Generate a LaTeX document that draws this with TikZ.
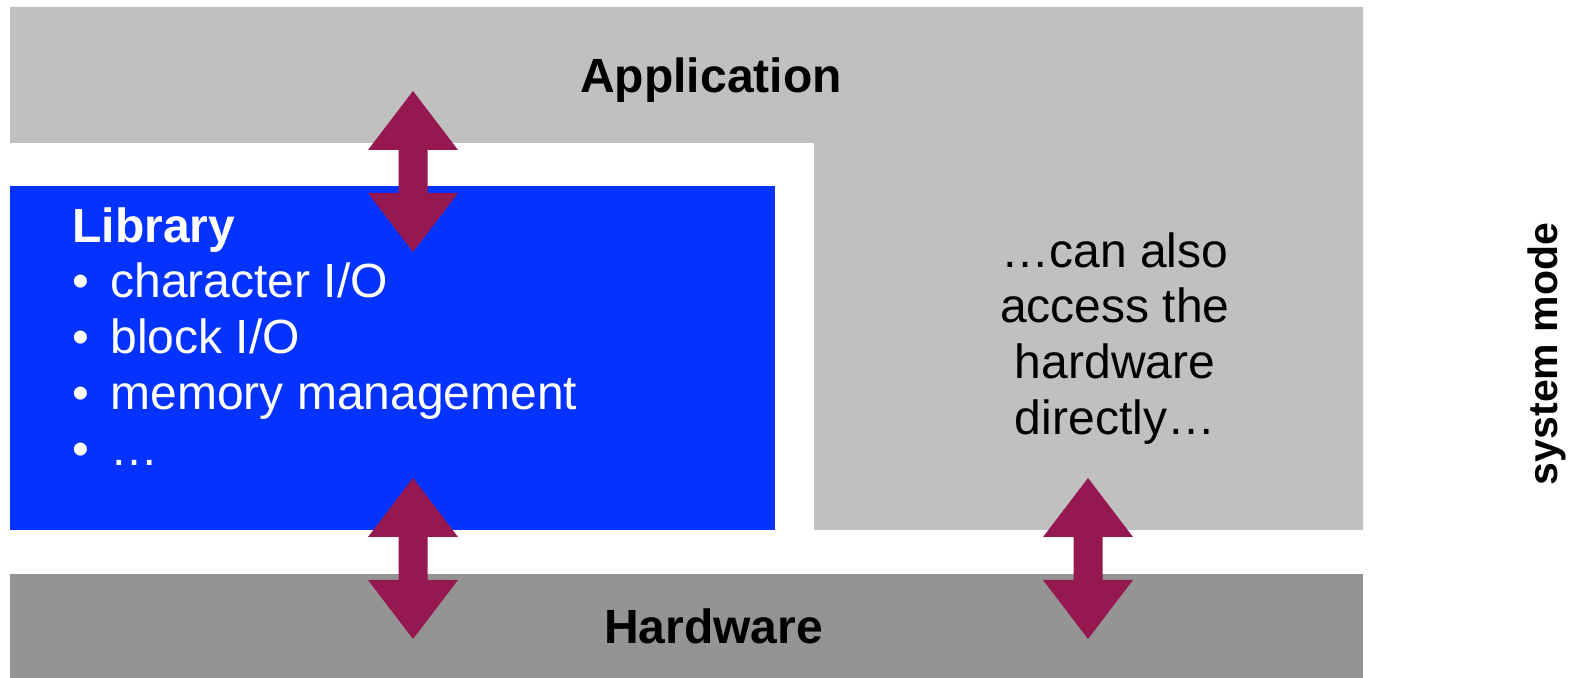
\documentclass[tikz,border=0pt]{standalone}
\usepackage{fontspec}
\setmainfont{Liberation Sans}
\definecolor{appgray}{HTML}{C0C0C0}
\definecolor{hwgray}{HTML}{949494}
\definecolor{libblue}{HTML}{0433FF}
\definecolor{arrowred}{HTML}{961850}
\tikzset{
  lbl/.style={inner sep=0pt, font=\fontsize{24}{28}\selectfont},
  bold/.style={lbl, font=\fontsize{24}{28}\selectfont\bfseries},
  onblue/.style={lbl, text=white, anchor=base west},
  note/.style={lbl, anchor=base},
}
% vertical double block arrow: #1 = centre x, #2 = top tip y
\newcommand\blockarrow[2]{%
  \fill[arrowred] (#1,#2) -- ++(45,59) -- ++(-30.5,0) -- ++(0,43) -- ++(30.5,0)
    -- ++(-45,59) -- ++(-45,-59) -- ++(30.5,0) -- ++(0,-43) -- ++(-30.5,0) -- cycle;}
\begin{document}
\begin{tikzpicture}[x=0.5pt, y=-0.5pt]
\useasboundingbox (0,0) rectangle (1575,678);

% layers
\fill[appgray] (10,7) -- (1363,7) -- (1363,530) -- (814,530) -- (814,143) -- (10,143) -- cycle;
\fill[libblue] (9.5,186) rectangle (775,530);
\fill[hwgray] (10,574) rectangle (1363,678);

% labels of the layers
\node[bold, anchor=base] (app) at (711,93) {Application};
\node[bold, anchor=base] (hw) at (713.5,643) {Hardware};

% library contents
\node[onblue, font=\fontsize{24}{28}\selectfont\bfseries] (lib) at (72,243) {Library};
\node[onblue, anchor=base] (b1) at (80.5,298) {•};
\node[onblue] (l1) at (110,298) {character I/O};
\node[onblue, anchor=base] (b2) at (80.5,354) {•};
\node[onblue] (l2) at (110,354) {block I/O};
\node[onblue, anchor=base] (b3) at (80.5,410) {•};
\node[onblue] (l3) at (110,410) {memory management};
\node[onblue, anchor=base] (b4) at (80.5,466) {•};
\node[onblue] (l4) at (110,466) {…};

% direct access note
\node[note] (n1) at (1115,268) {…can also};
\node[note] (n2) at (1115,323) {access the};
\node[note] (n3) at (1115,379) {hardware};
\node[note] (n4) at (1115,435) {directly…};

% side label
\node[bold, rotate=90, font=\fontsize{20.5}{24}\selectfont\bfseries] (mode) at (1547,354) {system mode};

% block arrows between the layers
\blockarrow{413}{91}
\blockarrow{413}{478}
\blockarrow{1088}{478}
\end{tikzpicture}
\end{document}
